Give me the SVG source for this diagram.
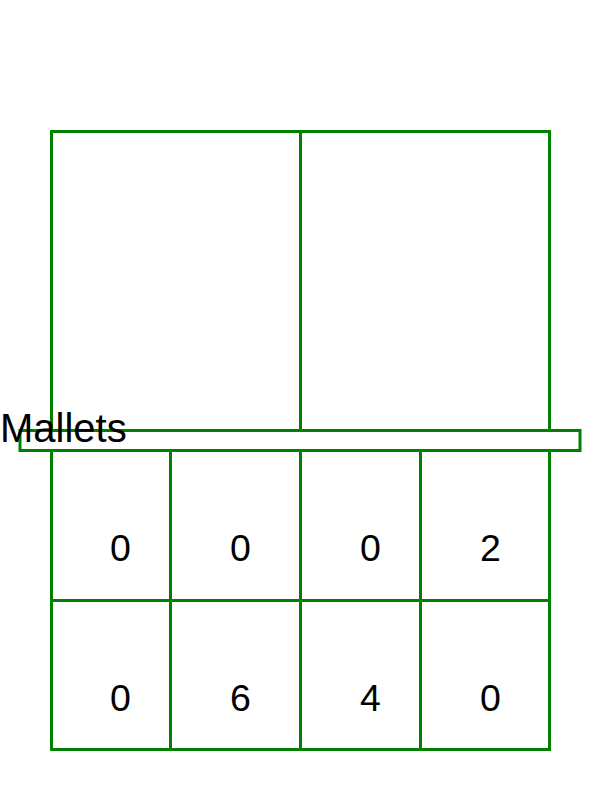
<svg xmlns="http://www.w3.org/2000/svg" width="600" height="800" viewBox="0 0 600 800">
<style>
.b{fill:none;stroke:#008000;stroke-width:3}
.t{font-family:"Liberation Sans",Arial,sans-serif;fill:#000}
.n{font-size:37.5px}
</style>
<rect width="600" height="800" fill="#fff"/>
<g id="top">
<rect class="b" x="51.5" y="131.5" width="498" height="299"/>
<line class="b" x1="300.5" y1="131.5" x2="300.5" y2="430.5"/>
</g>
<g id="bar">
<rect class="b" x="20" y="430.5" width="560" height="20"/>
</g>
<g id="grid">
<rect class="b" x="51.5" y="450.5" width="498" height="299"/>
<line class="b" x1="51.5" y1="600.5" x2="549.5" y2="600.5"/>
<line class="b" x1="170.5" y1="450.5" x2="170.5" y2="749.5"/>
<line class="b" x1="300.5" y1="450.5" x2="300.5" y2="749.5"/>
<line class="b" x1="420.5" y1="450.5" x2="420.5" y2="749.5"/>
</g>
<text class="t" x="0" y="442" font-size="40">Mallets</text>
<g class="t n">
<text x="110" y="561">0</text>
<text x="230" y="561">0</text>
<text x="360" y="561">0</text>
<text x="480" y="561">2</text>
<text x="110" y="711">0</text>
<text x="230" y="711">6</text>
<text x="360" y="711">4</text>
<text x="480" y="711">0</text>
</g>
</svg>
